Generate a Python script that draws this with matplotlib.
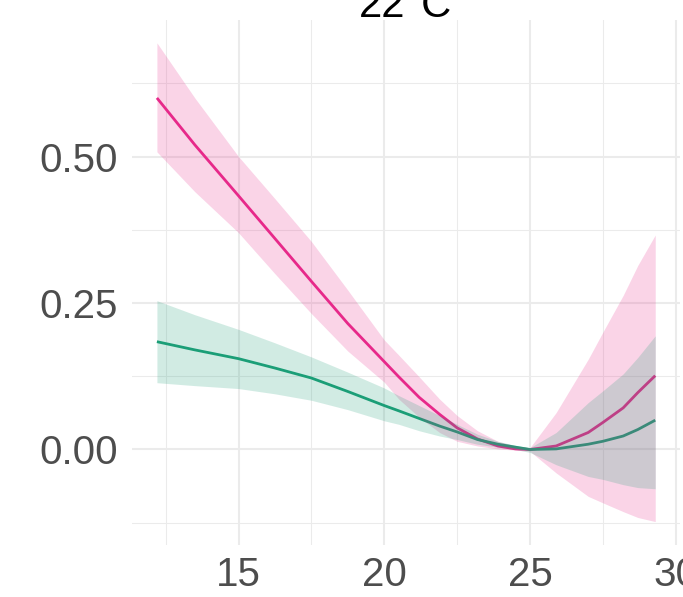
import matplotlib.pyplot as plt
import numpy as np

plt.rcParams['font.family'] = ['Liberation Sans', 'DejaVu Sans']

# temperature grid
temp = [12.2, 13.5, 15, 16.25, 17.5, 18.75, 20, 20.5, 21.2, 21.9, 22.5, 23.2, 23.9, 24.5, 25,
        25.9, 27.0, 27.5, 28.2, 28.7, 29.3]

# pink series
pink_fit = [0.600, 0.520, 0.433, 0.360, 0.287, 0.215, 0.150, 0.124, 0.089, 0.060, 0.037, 0.018, 0.006, 0.001, 0.0,
            0.006, 0.029, 0.046, 0.071, 0.097, 0.126]
pink_hi = [0.694, 0.600, 0.500, 0.428, 0.355, 0.272, 0.187, 0.161, 0.124, 0.086, 0.058, 0.032, 0.014, 0.006, 0.003,
           0.063, 0.154, 0.200, 0.263, 0.314, 0.366]
pink_lo = [0.508, 0.440, 0.370, 0.300, 0.232, 0.168, 0.115, 0.086, 0.055, 0.029, 0.014, 0.006, 0.001, -0.001, -0.003,
           -0.040, -0.080, -0.091, -0.106, -0.116, -0.123]

# green series
green_fit = [0.184, 0.170, 0.155, 0.139, 0.122, 0.099, 0.075, 0.066, 0.053, 0.040, 0.030, 0.017, 0.009, 0.004, 0.0,
             0.001, 0.009, 0.014, 0.023, 0.034, 0.050]
green_hi = [0.254, 0.230, 0.205, 0.182, 0.158, 0.132, 0.105, 0.092, 0.075, 0.058, 0.043, 0.026, 0.014, 0.007, 0.003,
            0.029, 0.080, 0.100, 0.129, 0.157, 0.194]
green_lo = [0.114, 0.109, 0.104, 0.095, 0.084, 0.068, 0.049, 0.043, 0.032, 0.023, 0.017, 0.009, 0.004, 0.0, -0.005,
            -0.026, -0.046, -0.051, -0.060, -0.065, -0.067]

x_ticks = [15, 20, 25, 30]
y_ticks = [0.0, 0.25, 0.50]
y_labels = ["0.00", "0.25", "0.50"]

PINK = "#E7298A"
GREEN = "#1B9E77"

fig = plt.figure(figsize=(6.83, 5.97), dpi=100)
ax = fig.add_axes([132/683, 52/597, 548/683, 525/597])

# lines first, ribbons on top (as in the original)
ax.plot(temp, pink_fit, color=PINK, lw=2.0, zorder=2, solid_capstyle='butt')
ax.plot(temp, green_fit, color=GREEN, lw=2.0, zorder=2, solid_capstyle='butt')
ax.fill_between(temp, pink_lo, pink_hi, color=PINK, alpha=0.2, lw=0, zorder=3)
ax.fill_between(temp, green_lo, green_hi, color=GREEN, alpha=0.2, lw=0, zorder=3)

ax.set_xlim(11.345, 30.15)
ax.set_ylim(-0.163, 0.733)

ax.set_xticks(x_ticks)
ax.set_xticks([12.5, 17.5, 22.5, 27.5], minor=True)
ax.set_yticks(y_ticks)
ax.set_yticklabels(y_labels)
ax.set_yticks([-0.125, 0.125, 0.375, 0.625], minor=True)

ax.grid(True, which='major', color='#EBEBEB', lw=1.5, zorder=0)
ax.grid(True, which='minor', color='#EBEBEB', lw=0.75, zorder=0)
ax.set_axisbelow(True)
for s in ax.spines.values():
    s.set_visible(False)
ax.tick_params(which='both', length=0)
ax.tick_params(axis='x', labelsize=29, labelcolor='#4D4D4D', pad=8)
ax.tick_params(axis='y', labelsize=29, labelcolor='#4D4D4D', pad=10)

fig.text(405/683, 1 - 17/597, "22°C", ha='center', va='baseline', fontsize=30, color='black')

fig.savefig("out.png", dpi=100)
